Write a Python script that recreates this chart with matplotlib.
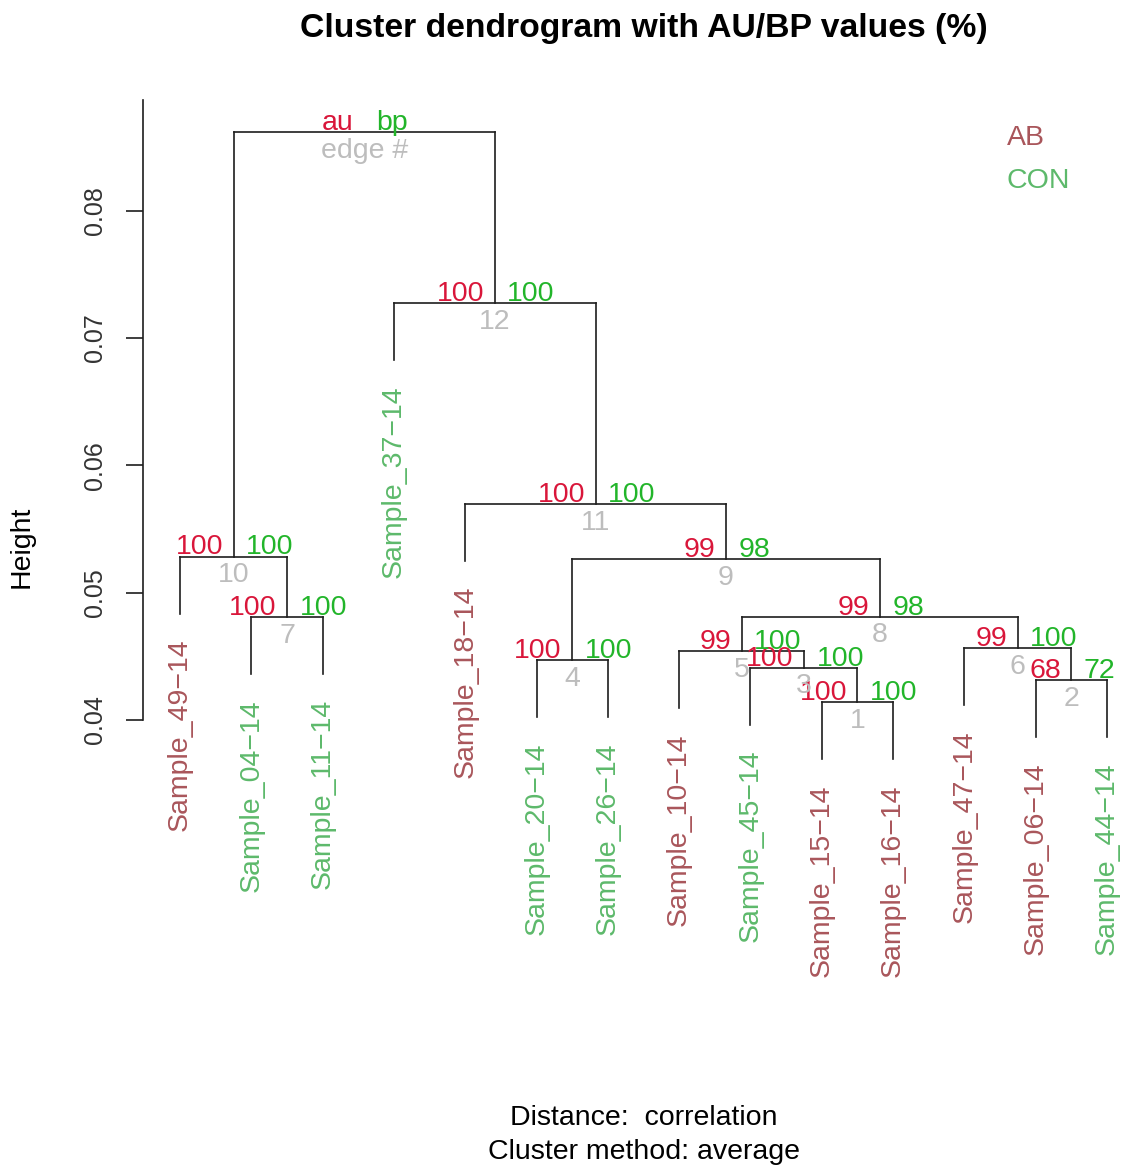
import matplotlib
matplotlib.use("Agg")
import matplotlib.pyplot as plt

plt.rcParams["font.family"] = ["Liberation Sans", "DejaVu Sans"]

# leaves in plotting order and their group
LEAVES = ["Sample_49-14", "Sample_04-14", "Sample_11-14", "Sample_37-14",
          "Sample_18-14", "Sample_20-14", "Sample_26-14", "Sample_10-14",
          "Sample_45-14", "Sample_15-14", "Sample_16-14", "Sample_47-14",
          "Sample_06-14", "Sample_44-14"]
GROUPS = ["AB", "CON", "CON", "CON", "AB", "CON", "CON", "AB",
          "CON", "AB", "AB", "AB", "AB", "CON"]

# merge matrix (negative = leaf position, positive = edge number)
MERGE = [(-10, -11), (-13, -14), (-9, 1), (-6, -7), (-8, 3), (-12, 2),
         (-2, -3), (5, 6), (4, 8), (-1, 7), (-5, 9), (-4, 11), (10, 12)]
HEIGHTS = [0.04141, 0.04314, 0.04411, 0.04471, 0.04542, 0.04563, 0.04809,
           0.04811, 0.05265, 0.05284, 0.05697, 0.07276, 0.08619]
AU = [100, 68, 100, 100, 99, 99, 100, 99, 99, 100, 100, 100]
BP = [100, 72, 100, 100, 100, 100, 100, 98, 98, 100, 100, 100]

CORES_GRUPO = {"AB": "#A9565B", "CON": "#5DB96B"}
COR_AU = "#D9163A"
COR_BP = "#22B52A"
COR_EDGE = "#BDBDBD"
COR_LINHA = "#1E1E1E"
HANG = 0.1

FS = 20.5

fig = plt.figure(figsize=(11.21, 11.66), dpi=100)
W, H = 1121, 1166
# plot region (px): x 143..1144, y 90..750
ax = fig.add_axes([143 / W, 1 - 750 / H, (1144 - 143) / W, 660 / H])
ax.set_xlim(0.48, 14.52)
ax.set_ylim(0.04 - 30 / 12730, 0.04 + 630 / 12730)

faixa = max(HEIGHTS) - min(HEIGHTS)
pos_x = {}
for i, (a, b) in enumerate(MERGE):
    h = HEIGHTS[i]
    xs = []
    for c in (a, b):
        if c < 0:
            x = -c
            top = h - HANG * faixa
            ax.annotate(LEAVES[x - 1].replace("-", "\u2212"), (x, top),
                        xytext=(0, -18), textcoords="offset points",
                        rotation=90, ha="center", va="top", fontsize=FS,
                        color=CORES_GRUPO[GROUPS[x - 1]], annotation_clip=False)
        else:
            x = pos_x[c]
            top = HEIGHTS[c - 1]
        ax.plot([x, x], [top, h], color=COR_LINHA, lw=1.2, clip_on=False)
        xs.append(x)
    ax.plot(xs, [h, h], color=COR_LINHA, lw=1.2, clip_on=False)
    xm = sum(xs) / 2
    pos_x[i + 1] = xm

    if i < len(AU):
        au_txt, bp_txt, ed_txt = str(AU[i]), str(BP[i]), str(i + 1)
    else:
        au_txt, bp_txt, ed_txt = "au", "bp", "edge #"
    ax.annotate(au_txt, (xm, h), xytext=(-7.5, 1.5), textcoords="offset points",
                ha="right", va="baseline", fontsize=FS, color=COR_AU)
    ax.annotate(bp_txt, (xm, h), xytext=(9, 1.5), textcoords="offset points",
                ha="left", va="baseline", fontsize=FS, color=COR_BP)
    ax.annotate(ed_txt, (xm, h), xytext=(0, -4), textcoords="offset points",
                ha="center", va="top", fontsize=FS, color=COR_EDGE)

# eixo y
for s in ["top", "right", "bottom"]:
    ax.spines[s].set_visible(False)
ax.spines["left"].set_bounds(0.04, 0.0887)
ax.spines["left"].set_color(COR_LINHA)
ax.spines["left"].set_linewidth(1.2)
ax.set_xticks([])
ax.set_yticks([0.04, 0.05, 0.06, 0.07, 0.08])
ax.set_yticklabels(["0.04", "0.05", "0.06", "0.07", "0.08"], rotation=90,
                   va="center", fontsize=18)
ax.tick_params(axis="y", length=12, width=1.2, color=COR_LINHA, pad=14,
               labelcolor="#333333")
ax.patch.set_visible(False)

fig.text(22 / W, 1 - 547 / H, "Height", rotation=90, ha="center", va="center",
         fontsize=FS)

# legenda dos grupos
fig.text(1007 / W, 1 - 138 / H, "AB", ha="left", va="center", fontsize=FS,
         color=CORES_GRUPO["AB"])
fig.text(1007 / W, 1 - 181 / H, "CON", ha="left", va="center", fontsize=FS,
         color=CORES_GRUPO["CON"])

fig.text(644 / W, 1 - 29 / H, "Cluster dendrogram with AU/BP values (%)",
         ha="center", va="center", fontsize=24.3, fontweight="bold")
fig.text(644 / W, 1 - 1118 / H, "Distance:  correlation", ha="center",
         va="center", fontsize=FS)
fig.text(644 / W, 1 - 1152 / H, "Cluster method: average", ha="center",
         va="center", fontsize=FS)

fig.savefig("out.png", dpi=100)
